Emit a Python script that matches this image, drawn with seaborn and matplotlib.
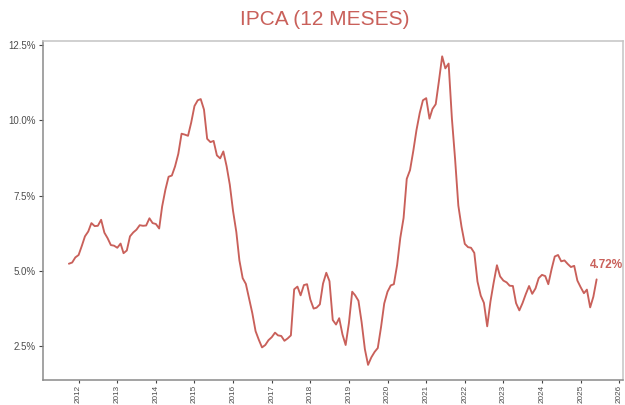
import matplotlib
matplotlib.use("Agg")
import matplotlib.pyplot as plt
import matplotlib.dates as mdates
from matplotlib.ticker import FuncFormatter, FixedLocator
import seaborn as sns
import pandas as pd

# ---- data (12-month IPCA, %) ----
start_month = "2011-10-01"
ipca = [
    5.24, 5.28, 5.45, 5.53, 5.84,
    6.15, 6.31, 6.59, 6.49, 6.50, 6.70, 6.27, 6.09, 5.86, 5.84, 5.77, 5.91,
    5.59, 5.68, 6.15, 6.28, 6.37, 6.52, 6.50, 6.51, 6.75, 6.59, 6.56, 6.41,
    7.14, 7.70, 8.13, 8.17, 8.47, 8.89, 9.56, 9.53, 9.49, 9.93, 10.48, 10.67,
    10.71, 10.36, 9.39, 9.28, 9.32, 8.84, 8.74, 8.97, 8.48, 7.87, 6.99, 6.29,
    5.35, 4.76, 4.57, 4.08, 3.60, 3.00, 2.71, 2.46, 2.54, 2.70, 2.80, 2.95,
    2.86, 2.84, 2.68, 2.76, 2.86, 4.39, 4.48, 4.19, 4.53, 4.56, 4.05, 3.75,
    3.78, 3.89, 4.58, 4.94, 4.66, 3.37, 3.22, 3.43, 2.89, 2.54, 3.27, 4.31,
    4.19, 4.01, 3.30, 2.40, 1.88, 2.13, 2.31, 2.44, 3.14, 3.92, 4.31, 4.52,
    4.56, 5.20, 6.10, 6.76, 8.06, 8.35, 8.99, 9.68, 10.25, 10.67, 10.74, 10.06,
    10.38, 10.54, 11.30, 12.13, 11.73, 11.89, 10.07, 8.73, 7.17, 6.47, 5.90, 5.79,
    5.77, 5.60, 4.65, 4.18, 3.94, 3.16, 3.99, 4.61, 5.19, 4.82, 4.68, 4.62,
    4.51, 4.50, 3.93, 3.69, 3.93, 4.23, 4.50, 4.24, 4.42, 4.76, 4.87, 4.83,
    4.56, 5.06, 5.48, 5.53, 5.32, 5.35, 5.23, 5.13, 5.17, 4.68, 4.46, 4.26,
    4.38, 3.79, 4.14, 4.72,
]
year_ticks = list(range(2012, 2027))
y_ticks = [2.5, 5.0, 7.5, 10.0, 12.5]
title = "IPCA (12 MESES)"

dates = pd.date_range(start_month, periods=len(ipca), freq="MS")
df = pd.DataFrame({"data": dates, "ipca": ipca})

RED = "#C9605A"

sns.set_theme(style="white")
plt.rcParams["font.family"] = ["Liberation Sans", "DejaVu Sans"]

fig = plt.figure(figsize=(6.25, 4.05), dpi=100)
ax = fig.add_axes([0.068, 0.061, 0.9288, 0.838])

sns.lineplot(data=df, x="data", y="ipca", ax=ax, color=RED, linewidth=1.35)

# ggplot-like 5% expansion
x0 = mdates.date2num(dates[0]); x1 = mdates.date2num(dates[-1])
px = (x1 - x0) * 0.05
ax.set_xlim(x0 - px, x1 + px)
y0, y1 = min(ipca), max(ipca)
py = (y1 - y0) * 0.05
ax.set_ylim(y0 - py, y1 + py)

ax.xaxis.set_major_locator(FixedLocator([mdates.date2num(pd.Timestamp(f"{y}-01-01")) for y in year_ticks]))
ax.xaxis.set_major_formatter(FuncFormatter(lambda v, p: mdates.num2date(v).strftime("%Y")))
ax.yaxis.set_major_locator(FixedLocator(y_ticks))
ax.yaxis.set_major_formatter(FuncFormatter(lambda v, p: f"{v:.1f}%"))

ax.set_xlabel("")
ax.set_ylabel("")
ax.tick_params(axis="both", which="major", bottom=True, left=True, direction="out",
               length=3, width=0.8, color="#444444", labelsize=7, labelcolor="#4d4d4d", pad=2)
ax.tick_params(axis="x", labelsize=5.9, pad=1.0, length=2.5)
plt.setp(ax.get_xticklabels(), rotation=90, ha="center", va="top")

for s in ["left", "bottom"]:
    ax.spines[s].set_color("#8a8a8a")
    ax.spines[s].set_linewidth(1.1)
for s in ["top", "right"]:
    ax.spines[s].set_color("#c4c4c4")
    ax.spines[s].set_linewidth(1.1)

ax.annotate(f"{ipca[-1]:.2f}%", xy=(dates[-1], ipca[-1]), xytext=(10, 14),
            textcoords="offset pixels", ha="center", va="center",
            color=RED, fontsize=8.5, fontweight="bold")

fig.suptitle(title, x=0.52, y=0.975, fontsize=15, color=RED, va="top")

fig.savefig("out.png", dpi=100)
